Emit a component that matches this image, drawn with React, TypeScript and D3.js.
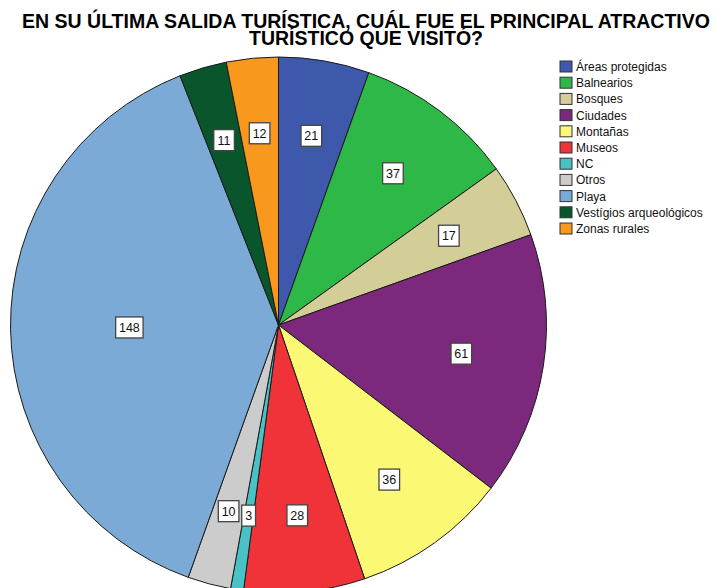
import React from "react";
import * as d3 from "d3";

const categories = [
  "Áreas protegidas",
  "Balnearios",
  "Bosques",
  "Ciudades",
  "Montañas",
  "Museos",
  "NC",
  "Otros",
  "Playa",
  "Vestígios arqueológicos",
  "Zonas rurales",
];
const values = [21, 37, 17, 61, 36, 28, 3, 10, 148, 11, 12];
const colors = [
  "#3E58AC",
  "#2EB848",
  "#D3CE97",
  "#7C287D",
  "#FBF873",
  "#EF3338",
  "#48C2C5",
  "#CCCCCC",
  "#7AAAD5",
  "#0A562C",
  "#F8981D",
];
const titleLines = [
  "EN SU ÚLTIMA SALIDA TURÍSTICA, CUÁL FUE EL PRINCIPAL ATRACTIVO",
  "TURÍSTICO QUE VISITÓ?",
];

const W = 717;
const H = 588;
const cx = 278.5;
const cy = 325;
const R = 268;

export default function App() {
  const pie = d3
    .pie<number>()
    .sort(null)
    .value((d) => d);
  const arcs = pie(values);
  const arc = d3.arc<d3.PieArcDatum<number>>().innerRadius(0).outerRadius(R);

  const labelPos = (a: d3.PieArcDatum<number>) => {
    const theta = a.endAngle - a.startAngle;
    const mid = (a.startAngle + a.endAngle) / 2;
    const dc = (4 * R * Math.sin(theta / 2)) / (3 * theta);
    const d = dc * 1.08;
    return [Math.sin(mid) * d, -Math.cos(mid) * d];
  };

  return (
    <svg
      width={W}
      height={H}
      style={{ position: "absolute", left: 0, top: 0, background: "#fff" }}
      fontFamily="'Liberation Sans', Arial, sans-serif"
    >
      <g transform={`translate(${cx},${cy})`}>
        {arcs.map((a, i) => (
          <path
            key={i}
            d={arc(a) || ""}
            fill={colors[i]}
            stroke="#1a1a1a"
            strokeWidth={1}
            strokeLinejoin="round"
          />
        ))}
        {arcs.map((a, i) => {
          const [x, y] = labelPos(a);
          const txt = String(values[i]);
          const w = txt.length * 6.8 + 7;
          const h = 21;
          return (
            <g key={"l" + i} transform={`translate(${x},${y})`}>
              <rect
                x={-w / 2}
                y={-h / 2}
                width={w}
                height={h}
                fill="#fff"
                stroke="#444"
                strokeWidth={1.3}
              />
              <text
                textAnchor="middle"
                dy="0.36em"
                fontSize={12.5}
                fill="#111"
              >
                {txt}
              </text>
            </g>
          );
        })}
      </g>
      <g>
        {titleLines.map((t, i) => (
          <text
            key={i}
            x={366}
            y={28 + i * 17}
            textAnchor="middle"
            fontSize={19.5}
            fontWeight="bold"
            fill="#000"
          >
            {t}
          </text>
        ))}
      </g>
      <g transform="translate(560,61)">
        {categories.map((c, i) => (
          <g key={c} transform={`translate(0,${i * 16.2})`}>
            <rect
              x={0}
              y={0}
              width={12}
              height={11}
              fill={colors[i]}
              stroke="#333"
              strokeWidth={1}
            />
            <text x={16} y={10} fontSize={12} fill="#111">
              {c}
            </text>
          </g>
        ))}
      </g>
    </svg>
  );
}
